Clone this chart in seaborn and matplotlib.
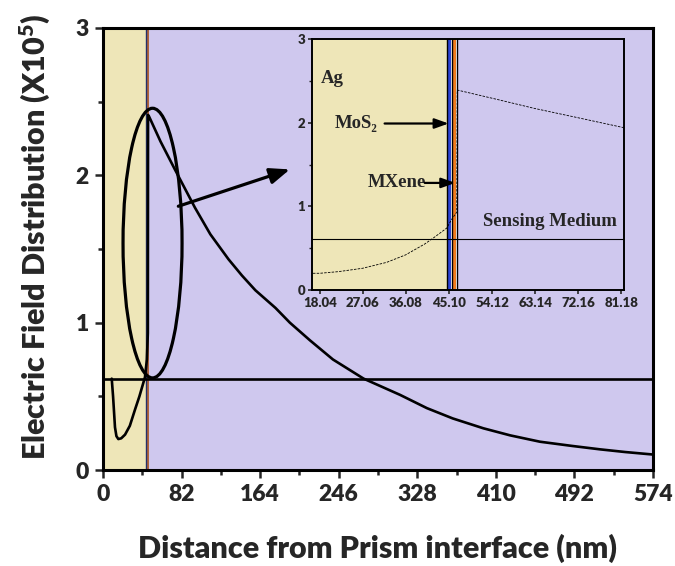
# import the libraries
import numpy as np
import pandas as pd
import seaborn as sns
import matplotlib.pyplot as plt
from matplotlib.patches import Ellipse
from matplotlib.ticker import MultipleLocator

# field profile (distance in nm, field in X10^5)
main_x = [9.1, 10.5, 12.5, 14, 16, 19, 23, 28, 33.4, 38, 43.8, 45.8, 46.8, 47.0, 48, 60, 75, 96, 112,
          131, 145, 159, 180, 195, 216, 240, 272, 310, 338, 365, 397, 425, 456, 490, 519, 545, 574]
main_y = [0.62, 0.50, 0.29, 0.23, 0.21, 0.215, 0.24, 0.30, 0.41, 0.50, 0.63, 0.75, 0.93, 2.41, 2.40, 2.23,
          2.04, 1.78, 1.60, 1.43, 1.32, 1.22, 1.10, 1.00, 0.88, 0.75, 0.62, 0.51, 0.42, 0.35, 0.283, 0.235,
          0.192, 0.163, 0.14, 0.122, 0.105]

# reference level
level_x = [0, 574]
level_y = [0.616, 0.616]

# zoomed profile
inset_x = [16.6, 18.04, 22, 27, 32, 36, 40, 42, 44.6, 45.7, 46.7, 46.8, 55, 63, 72, 81.7]
inset_y = [0.20, 0.20, 0.22, 0.26, 0.33, 0.42, 0.55, 0.63, 0.74, 0.85, 0.93, 2.39, 2.28, 2.17, 2.06, 1.94]
inset_level = 0.61

# layer boundaries (nm)
ag_end = 44.6
mos2 = (44.9, 45.6)
mxene = (45.8, 46.6)
medium_start = 46.85

main_xticks = [0, 82, 164, 246, 328, 410, 492, 574]
inset_xticks = [18.04, 27.06, 36.08, 45.10, 54.12, 63.14, 72.16, 81.18]

yellow = "#EEE6B8"
lavender = "#CFC8EE"

# set the theme, then fonts
sns.set_theme(style="ticks")
plt.rcParams["font.family"] = ["Lato", "DejaVu Sans"]
plt.rcParams["font.weight"] = "heavy"
plt.rcParams["mathtext.fontset"] = "custom"
plt.rcParams["mathtext.rm"] = "Lato:heavy"
plt.rcParams["mathtext.bf"] = "Lato:heavy"
plt.rcParams["mathtext.it"] = "Lato:heavy"

fig = plt.figure(figsize=(6.75, 5.66), dpi=100)
ax = fig.add_axes([0.1526, 0.1696, 0.8148, 0.781])

# background layers
ax.axvspan(0, ag_end + 1.2, color=yellow, lw=0, zorder=0)
ax.axvspan(ag_end + 1.2, 574, color=lavender, lw=0, zorder=0)
ax.axvspan(ag_end, medium_start + 1, color="#B0643A", lw=0, zorder=1)
ax.axvline(ag_end + 0.6, color="#22306B", lw=1.0, zorder=1)

# curves
main_df = pd.DataFrame({"x": main_x, "y": main_y})
sns.lineplot(data=main_df, x="x", y="y", ax=ax, color="black", lw=1.9, sort=False,
             estimator=None, zorder=3)
sns.lineplot(x=level_x, y=level_y, ax=ax, color="black", lw=1.9, estimator=None, zorder=3)

# ellipse and arrow
ax.add_patch(Ellipse((51.7, 1.54), 61.6, 1.83, fill=False, lw=2.3, ec="black", zorder=4))
ax.annotate("", xy=(195, 2.04), xytext=(78.6, 1.79),
            arrowprops=dict(arrowstyle="-|>,head_length=1.0,head_width=0.4",
                            lw=2.3, color="black", shrinkA=0, shrinkB=0), zorder=4)

ax.set_xlim(0, 574)
ax.set_ylim(0, 3)
ax.set_xticks(main_xticks)
ax.set_yticks([0, 1, 2, 3])
ax.xaxis.set_minor_locator(MultipleLocator(41))
ax.yaxis.set_minor_locator(MultipleLocator(0.5))
ax.tick_params(which="major", length=6, width=1.8, labelsize=16.5, pad=4)
ax.tick_params(which="minor", length=3.5, width=1.8)
for s in ax.spines.values():
    s.set_linewidth(2.2)
    s.set_color("black")
ax.set_xlabel("Distance from Prism interface (nm)", fontsize=22, fontweight="heavy", labelpad=21)
ax.set_ylabel(r"Electric Field Distribution (X10$^{5}$)", fontsize=22, fontweight="heavy")
ax.yaxis.set_label_coords(-0.092, 0.527)

# inset
axi = fig.add_axes([0.4622, 0.4876, 0.4622, 0.4435])
axi.axvspan(16.4, ag_end, color=yellow, lw=0, zorder=0)
axi.axvspan(medium_start, 81.7, color=lavender, lw=0, zorder=0)
axi.axvspan(mos2[0], mos2[1], color="#2E45D6", lw=0, zorder=1)
axi.axvspan(mxene[0], mxene[1], color="#F07A1E", lw=0, zorder=1)
for xv in [ag_end, 45.7, medium_start]:
    axi.axvline(xv, color="black", lw=1.0, zorder=2)

inset_df = pd.DataFrame({"x": inset_x, "y": inset_y})
sns.lineplot(data=inset_df, x="x", y="y", ax=axi, color="black", lw=0.6, sort=False,
             estimator=None, linestyle=(0, (3, 1.5)), zorder=3)
axi.axhline(inset_level, color="black", lw=0.8, zorder=3)

serif = ["Liberation Serif", "DejaVu Serif"]
axi.text(18.2, 2.53, "Ag", fontsize=13.5, fontweight="bold", family=serif, va="center")
axi.text(21.2, 1.99, "MoS₂", fontsize=13.5, fontweight="bold", family=serif, va="center")
axi.annotate("", xy=(45.0, 1.99), xytext=(31.6, 1.99),
             arrowprops=dict(arrowstyle="-|>,head_length=0.7,head_width=0.25", lw=1.6,
                             color="black", shrinkA=0, shrinkB=0))
axi.text(28.1, 1.28, "MXene", fontsize=13.5, fontweight="bold", family=serif, va="center")
axi.annotate("", xy=(46.4, 1.28), xytext=(40.0, 1.28),
             arrowprops=dict(arrowstyle="-|>,head_length=0.7,head_width=0.25", lw=1.6,
                             color="black", shrinkA=0, shrinkB=0))
axi.text(52.2, 0.82, "Sensing Medium", fontsize=13.5, fontweight="bold", family=serif, va="center")

axi.set_xlim(16.4, 81.7)
axi.set_ylim(0, 3)
axi.set_xticks(inset_xticks)
axi.set_xticklabels([f"{v:.2f}" for v in inset_xticks])
axi.set_yticks([0, 1, 2, 3])
axi.yaxis.set_minor_locator(MultipleLocator(0.5))
axi.tick_params(which="major", length=3, width=1.2, labelsize=9.5, pad=2)
axi.tick_params(which="minor", length=2, width=1.0)
for s in axi.spines.values():
    s.set_linewidth(1.4)
    s.set_color("black")
axi.set_xlabel("")
axi.set_ylabel("")

fig.savefig("out.png", dpi=100)
